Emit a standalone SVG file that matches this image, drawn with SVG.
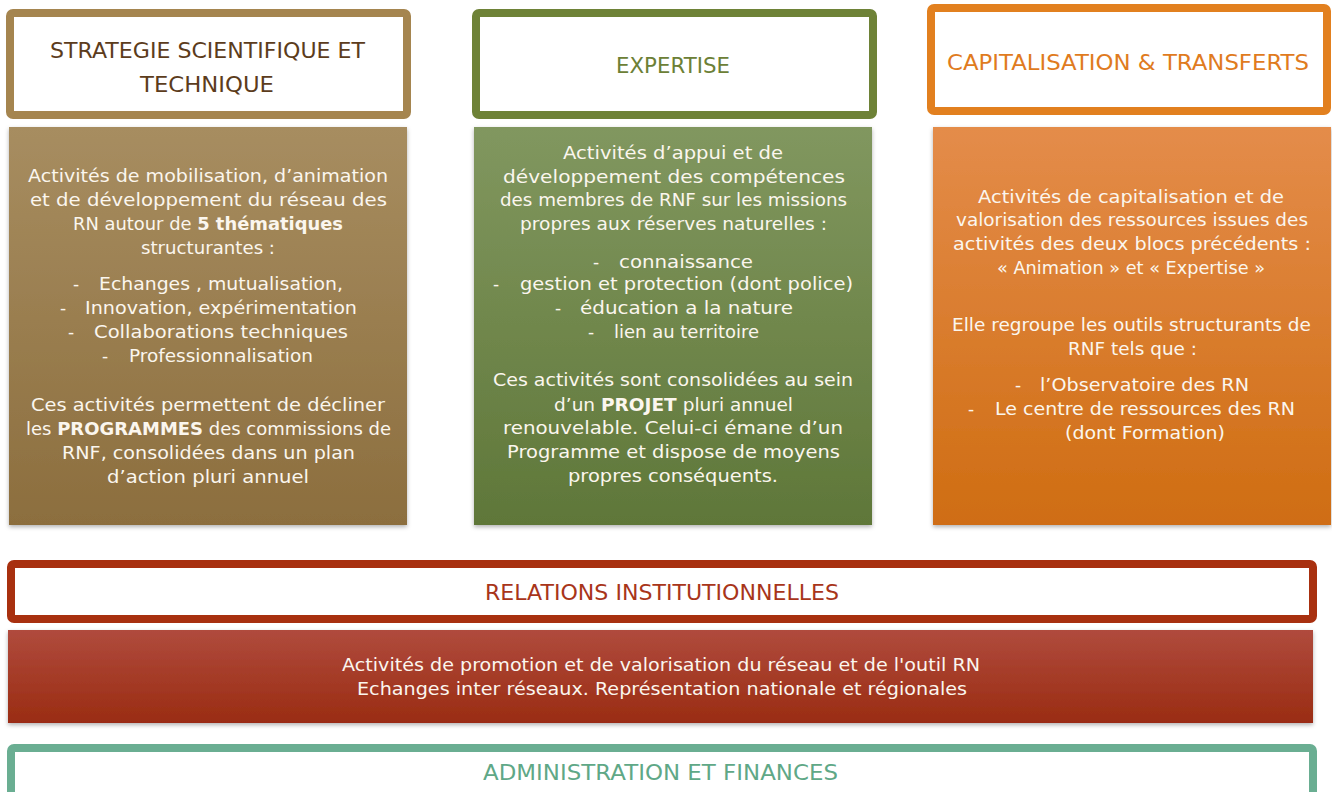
<svg xmlns="http://www.w3.org/2000/svg" width="1332" height="792" viewBox="0 0 1332 792">
<defs>
<linearGradient id="gBrown" x1="0" y1="0" x2="0" y2="1"><stop offset="0" stop-color="#a78d60"/><stop offset="1" stop-color="#8c6e3e"/></linearGradient>
<linearGradient id="gGreen" x1="0" y1="0" x2="0" y2="1"><stop offset="0" stop-color="#81975f"/><stop offset="1" stop-color="#5f7739"/></linearGradient>
<linearGradient id="gOrange" x1="0" y1="0" x2="0" y2="1"><stop offset="0" stop-color="#e48c4a"/><stop offset="1" stop-color="#cf6d12"/></linearGradient>
<linearGradient id="gRed" x1="0" y1="0" x2="0" y2="1"><stop offset="0" stop-color="#b04b3d"/><stop offset="1" stop-color="#9a2c12"/></linearGradient>
<filter id="sh" x="-5%" y="-5%" width="110%" height="115%"><feDropShadow dx="0" dy="2" stdDeviation="2" flood-color="#000" flood-opacity="0.3"/></filter>
</defs>
<style>
.hdr{fill:#fff;stroke-width:8}
.t{font-family:"DejaVu Sans",sans-serif;font-size:22px}
.b{font-family:"DejaVu Sans",sans-serif;font-size:17px;fill:#fbf6ee}
.bb{font-weight:bold}
</style>
<rect width="1332" height="792" fill="#fff"/>

<g id="strategie">
<rect class="hdr" x="10" y="13" width="397" height="102" rx="3" stroke="#a5854f"/>
<text class="t" fill="#5c3c1c" x="50" y="58" textLength="315" lengthAdjust="spacingAndGlyphs">STRATEGIE SCIENTIFIQUE ET</text>
<text class="t" fill="#5c3c1c" x="140" y="92" textLength="134" lengthAdjust="spacingAndGlyphs">TECHNIQUE</text>
</g>
<g id="strategie-body">
<rect x="9" y="127" width="398" height="398" fill="url(#gBrown)" filter="url(#sh)"/>
<text class="b" x="28" y="182" textLength="360" lengthAdjust="spacingAndGlyphs">Activités de mobilisation, d’animation</text>
<text class="b" x="30" y="206" textLength="357" lengthAdjust="spacingAndGlyphs">et de développement du réseau des</text>
<text class="b" x="73" y="230" textLength="270" lengthAdjust="spacingAndGlyphs">RN autour de <tspan class="bb">5 thématiques</tspan></text>
<text class="b" x="141" y="254" textLength="134" lengthAdjust="spacingAndGlyphs">structurantes :</text>
<text class="b" x="73" y="290">-</text>
<text class="b" x="99" y="290" textLength="244" lengthAdjust="spacingAndGlyphs">Echanges , mutualisation,</text>
<text class="b" x="60" y="314">-</text>
<text class="b" x="85" y="314" textLength="272" lengthAdjust="spacingAndGlyphs">Innovation, expérimentation</text>
<text class="b" x="68" y="338">-</text>
<text class="b" x="94" y="338" textLength="254" lengthAdjust="spacingAndGlyphs">Collaborations techniques</text>
<text class="b" x="102" y="362">-</text>
<text class="b" x="129" y="362" textLength="184" lengthAdjust="spacingAndGlyphs">Professionnalisation</text>
<text class="b" x="31" y="411" textLength="354" lengthAdjust="spacingAndGlyphs">Ces activités permettent de décliner</text>
<text class="b" x="26" y="435" textLength="365" lengthAdjust="spacingAndGlyphs">les <tspan class="bb">PROGRAMMES</tspan> des commissions de</text>
<text class="b" x="62" y="459" textLength="293" lengthAdjust="spacingAndGlyphs">RNF, consolidées dans un plan</text>
<text class="b" x="107" y="483" textLength="202" lengthAdjust="spacingAndGlyphs">d’action pluri annuel</text>
</g>

<g id="expertise">
<rect class="hdr" x="476" y="13" width="397" height="102" rx="3" stroke="#6e8237"/>
<text class="t" fill="#6c8036" x="616" y="73" textLength="114" lengthAdjust="spacingAndGlyphs">EXPERTISE</text>
</g>
<g id="expertise-body">
<rect x="474" y="127" width="398" height="398" fill="url(#gGreen)" filter="url(#sh)"/>
<text class="b" x="563" y="159" textLength="220" lengthAdjust="spacingAndGlyphs">Activités d’appui et de</text>
<text class="b" x="503" y="183" textLength="342" lengthAdjust="spacingAndGlyphs">développement des compétences</text>
<text class="b" x="500" y="206" textLength="347" lengthAdjust="spacingAndGlyphs">des membres de RNF sur les missions</text>
<text class="b" x="520" y="230" textLength="307" lengthAdjust="spacingAndGlyphs">propres aux réserves naturelles :</text>
<text class="b" x="593" y="268">-</text>
<text class="b" x="619" y="268" textLength="134" lengthAdjust="spacingAndGlyphs">connaissance</text>
<text class="b" x="493" y="290">-</text>
<text class="b" x="520" y="290" textLength="333" lengthAdjust="spacingAndGlyphs">gestion et protection (dont police)</text>
<text class="b" x="555" y="314">-</text>
<text class="b" x="580" y="314" textLength="213" lengthAdjust="spacingAndGlyphs">éducation a la nature</text>
<text class="b" x="588" y="338">-</text>
<text class="b" x="614" y="338" textLength="145" lengthAdjust="spacingAndGlyphs">lien au territoire</text>
<text class="b" x="493" y="386" textLength="360" lengthAdjust="spacingAndGlyphs">Ces activités sont consolidées au sein</text>
<text class="b" x="554" y="411" textLength="239" lengthAdjust="spacingAndGlyphs">d’un <tspan class="bb">PROJET</tspan> pluri annuel</text>
<text class="b" x="503" y="434" textLength="340" lengthAdjust="spacingAndGlyphs">renouvelable. Celui-ci émane d’un</text>
<text class="b" x="507" y="458" textLength="333" lengthAdjust="spacingAndGlyphs">Programme et dispose de moyens</text>
<text class="b" x="568" y="482" textLength="210" lengthAdjust="spacingAndGlyphs">propres conséquents.</text>
</g>

<g id="capitalisation">
<rect class="hdr" x="931" y="8" width="396" height="103" rx="3" stroke="#e2801f"/>
<text class="t" fill="#e07b1e" x="947" y="70" textLength="362" lengthAdjust="spacingAndGlyphs">CAPITALISATION &amp; TRANSFERTS</text>
</g>
<g id="capitalisation-body">
<rect x="933" y="127" width="398" height="398" fill="url(#gOrange)" filter="url(#sh)"/>
<text class="b" x="978" y="203" textLength="306" lengthAdjust="spacingAndGlyphs">Activités de capitalisation  et de</text>
<text class="b" x="956" y="226" textLength="352" lengthAdjust="spacingAndGlyphs">valorisation des ressources issues des</text>
<text class="b" x="953" y="250" textLength="358" lengthAdjust="spacingAndGlyphs">activités des deux blocs précédents :</text>
<text class="b" x="997" y="274" textLength="268" lengthAdjust="spacingAndGlyphs">« Animation » et « Expertise »</text>
<text class="b" x="952" y="331" textLength="359" lengthAdjust="spacingAndGlyphs">Elle regroupe les outils structurants de</text>
<text class="b" x="1068" y="355" textLength="129" lengthAdjust="spacingAndGlyphs">RNF tels que :</text>
<text class="b" x="1015" y="391">-</text>
<text class="b" x="1040" y="391" textLength="209" lengthAdjust="spacingAndGlyphs">l’Observatoire des RN</text>
<text class="b" x="968" y="415">-</text>
<text class="b" x="995" y="415" textLength="300" lengthAdjust="spacingAndGlyphs">Le centre de ressources des RN</text>
<text class="b" x="1065" y="439" textLength="160" lengthAdjust="spacingAndGlyphs">(dont Formation)</text>
</g>

<g id="relations">
<rect class="hdr" x="11" y="564" width="1302" height="55" rx="3" stroke="#a8300f"/>
<text class="t" fill="#a8351a" x="485" y="600" textLength="354" lengthAdjust="spacingAndGlyphs">RELATIONS INSTITUTIONNELLES</text>
</g>
<g id="relations-body">
<rect x="8" y="630" width="1305" height="93" fill="url(#gRed)" filter="url(#sh)"/>
<text class="b" x="342" y="671" textLength="638" lengthAdjust="spacingAndGlyphs">Activités de promotion et de valorisation du réseau et de l'outil RN</text>
<text class="b" x="357" y="695" textLength="610" lengthAdjust="spacingAndGlyphs">Echanges inter réseaux. Représentation nationale et régionales</text>
</g>

<g id="administration">
<rect class="hdr" x="11" y="748" width="1302" height="60" rx="3" stroke="#6aae92"/>
<text class="t" fill="#5fa887" x="483" y="780" textLength="355" lengthAdjust="spacingAndGlyphs">ADMINISTRATION ET FINANCES</text>
</g>

<g id="connectors"/>
</svg>
